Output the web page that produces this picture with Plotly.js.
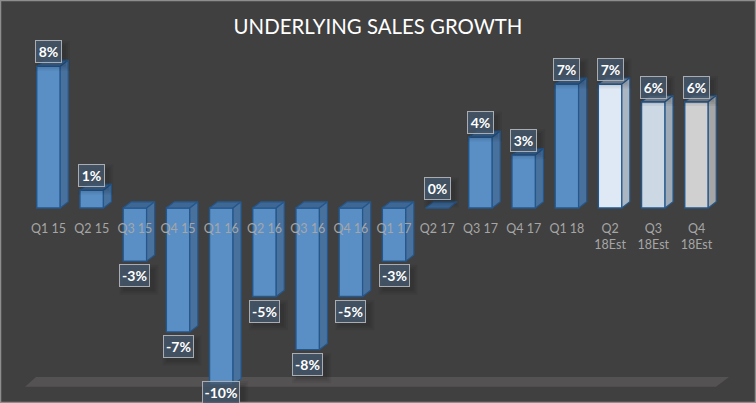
<!DOCTYPE html>
<html>
<head>
<meta charset="utf-8">
<script src="https://cdn.plot.ly/plotly-3.0.1.min.js"></script>
<style>html,body{margin:0;padding:0;background:#404040;overflow:hidden}#c{width:756px;height:403px}</style>
</head>
<body>
<div id="c"></div>
<script>
var quarters = ['Q1 15','Q2 15','Q3 15','Q4 15','Q1 16','Q2 16','Q3 16','Q4 16','Q1 17','Q2 17','Q3 17','Q4 17','Q1 18','Q2<br>18Est','Q3<br>18Est','Q4<br>18Est'];
var growth = [8,1,-3,-7,-10,-5,-8,-5,-3,0,4,3,7,7,6,6];
var labels = ['8%','1%','-3%','-7%','-10%','-5%','-8%','-5%','-3%','0%','4%','3%','7%','7%','6%','6%'];

var W = 756, H = 403, xStep = 43.2, x0px = 48.5, yUnit = 17.7, y0px = 208;
var barW = 23.5 / xStep, dx = 8 / xStep, dy = 6.2 / yUnit;
var front = [], side = [], topc = [];
growth.forEach(function (v, i) {
  if (i === 13) { front.push('#dfe9f5'); side.push('#aab6c2'); topc.push('#7f93a8'); }
  else if (i === 14) { front.push('#ccd8e4'); side.push('#9eaab6'); topc.push('#7f93a8'); }
  else if (i === 15) { front.push('#d0d0d0'); side.push('#a6a6a6'); topc.push('#7d8894'); }
  else { front.push('#5a8fc5'); side.push('#48719e'); topc.push('#3e6794'); }
});
var edge = '#24578c';
var idx = growth.map(function (v, i) { return i; });

var traces = [{
  type: 'bar', x: idx, y: growth, width: barW,
  marker: { color: front, line: { color: edge, width: 1.4 } },
  hoverinfo: 'skip', showlegend: false
}];
function poly(xs, ys, fill) {
  traces.push({ type: 'scatter', mode: 'lines', x: xs, y: ys, fill: 'toself', fillcolor: fill,
    line: { color: edge, width: 1.2 }, hoverinfo: 'skip', showlegend: false });
}
growth.forEach(function (v, i) {
  var t = Math.max(v, 0), b = Math.min(v, 0), l = i - barW / 2, r = i + barW / 2;
  poly([l, r, r + dx, l + dx, l], [t, t, t + dy, t + dy, t], topc[i]);
  if (v !== 0) poly([r, r + dx, r + dx, r, r], [t, t + dy, b + dy, b, t], side[i]);
});

var shapes = [
  { type: 'path', xref: 'paper', yref: 'paper', layer: 'below',
    path: 'M ' + 25 / W + ' ' + (1 - 386.7 / H) + ' L ' + 36 / W + ' ' + (1 - 377 / H) + ' L ' + 729 / W + ' ' + (1 - 377 / H) + ' L ' + 716 / W + ' ' + (1 - 386.7 / H) + ' Z',
    fillcolor: '#545252', line: { width: 0 } }
];
var annotations = [];
growth.forEach(function (v, i) {
  var off = v === 0 ? 19.5 : 14.7;
  var cy = v >= 0 ? -off : off;
  var px = y0px - v * yUnit + cy;
  if (px > 392) { cy -= px - 392; }
  var bw = labels[i].length === 2 ? 27 : (labels[i].length === 3 ? 31 : 38);
  [[7, 0.05], [5, 0.06], [3, 0.07]].forEach(function (s) {
    shapes.push({ type: 'rect', xref: 'x', yref: 'y', xsizemode: 'pixel', ysizemode: 'pixel', layer: 'above',
      xanchor: i, yanchor: v,
      x0: -bw / 2 + 4 - s[0] + 3, x1: bw / 2 + 4 + s[0] - 3,
      y0: -cy - 11 - 4 - s[0] + 3, y1: -cy + 11 - 4 + s[0] - 3,
      fillcolor: 'rgba(0,0,0,' + s[1] + ')', line: { width: 0 } });
  });
  annotations.push({
    x: i, y: v, xref: 'x', yref: 'y', showarrow: false, text: '<b>' + labels[i] + '</b>',
    yshift: -cy, xanchor: 'center', yanchor: 'middle', width: bw - 2, height: 21, borderpad: 0,
    align: 'center', valign: 'middle', bgcolor: 'rgba(68,88,108,0.82)', bordercolor: '#a9adb1', borderwidth: 1,
    font: { family: 'Lato, sans-serif', size: 14, color: '#ffffff' }
  });
});
shapes.push({ type: 'rect', xref: 'paper', yref: 'paper', x0: 0, x1: 1, y0: 0, y1: 1, layer: 'above',
  fillcolor: 'rgba(0,0,0,0)', line: { color: '#8e8e8e', width: 2.5 } });

var layout = {
  width: W, height: H, margin: { l: 0, r: 0, t: 0, b: 0, pad: 0 },
  paper_bgcolor: '#404040', plot_bgcolor: '#404040', showlegend: false, barmode: 'overlay',
  title: { text: 'UNDERLYING SALES GROWTH', x: 0.5, xanchor: 'center', y: 1 - 27 / H, yanchor: 'middle',
    font: { family: 'Lato, sans-serif', size: 20.4, color: '#ffffff' } },
  xaxis: { type: 'linear', range: [-x0px / xStep, (W - x0px) / xStep], tickmode: 'array', tickvals: idx, ticktext: quarters,
    anchor: 'free', position: 1 - y0px / H, showgrid: false, zeroline: false, showline: false,
    ticks: 'outside', ticklen: 9, tickcolor: 'rgba(0,0,0,0)',
    tickfont: { family: 'Lato, sans-serif', size: 12.5, color: '#a6a6a6' }, tickangle: 0, fixedrange: true },
  yaxis: { range: [-(H - y0px) / yUnit, y0px / yUnit], visible: false, showgrid: false, zeroline: false, fixedrange: true },
  shapes: shapes, annotations: annotations
};
Plotly.newPlot('c', traces, layout, { displayModeBar: false, staticPlot: true });
</script>
</body>
</html>
